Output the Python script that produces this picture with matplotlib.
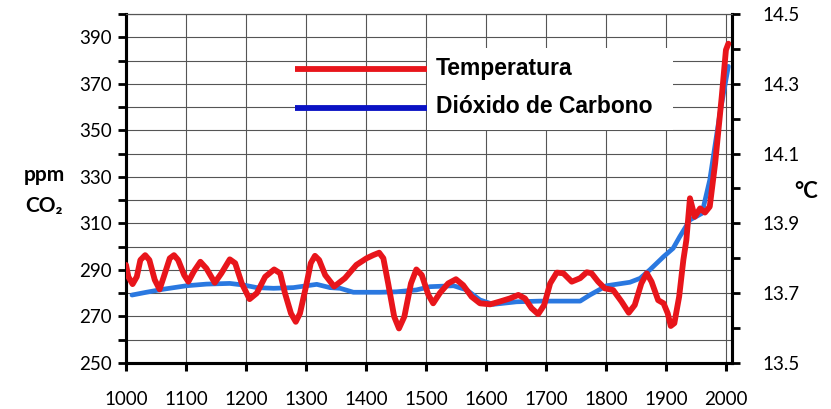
import matplotlib
matplotlib.use('Agg')
import matplotlib.pyplot as plt
from matplotlib.patches import Rectangle
from matplotlib.ticker import FixedLocator, FuncFormatter

# temperature (deg C)
temp_years = [1000, 1004, 1011, 1018, 1024, 1032, 1039, 1048, 1056, 1063,
              1073, 1080, 1087, 1097, 1104, 1113, 1124, 1134, 1148, 1159,
              1173, 1182, 1193, 1206, 1218, 1232, 1247, 1257, 1265, 1275,
              1283, 1290, 1300, 1308, 1315, 1322, 1332, 1347, 1365, 1384,
              1401, 1412, 1422, 1429, 1437, 1447, 1455, 1464, 1475, 1484,
              1493, 1504, 1512, 1523, 1537, 1550, 1562, 1576, 1590, 1607,
              1623, 1640, 1654, 1665, 1676, 1687, 1697, 1707, 1718, 1729,
              1743, 1757, 1768, 1776, 1787, 1798, 1812, 1826, 1838, 1848,
              1859, 1868, 1876, 1887, 1896, 1903, 1908, 1914, 1922, 1929,
              1934, 1940, 1948, 1957, 1965, 1973, 1982, 1993, 2000, 2004]
temp_vals = [13.781, 13.747, 13.726, 13.747, 13.795, 13.809, 13.795, 13.738, 13.711, 13.747,
             13.800, 13.809, 13.795, 13.752, 13.733, 13.762, 13.790, 13.771, 13.730, 13.757,
             13.797, 13.786, 13.728, 13.683, 13.700, 13.747, 13.768, 13.757, 13.700, 13.642,
             13.618, 13.642, 13.719, 13.786, 13.807, 13.795, 13.752, 13.719, 13.743, 13.781,
             13.800, 13.809, 13.816, 13.800, 13.728, 13.633, 13.599, 13.633, 13.728, 13.768,
             13.752, 13.695, 13.671, 13.700, 13.728, 13.740, 13.723, 13.690, 13.671, 13.668,
             13.676, 13.685, 13.695, 13.685, 13.657, 13.640, 13.666, 13.728, 13.759, 13.757,
             13.733, 13.743, 13.760, 13.757, 13.733, 13.714, 13.709, 13.676, 13.644, 13.666,
             13.728, 13.757, 13.733, 13.680, 13.671, 13.642, 13.606, 13.614, 13.690, 13.795,
             13.852, 13.972, 13.919, 13.943, 13.931, 13.948, 14.072, 14.263, 14.397, 14.415]

# CO2 (ppm)
co2_years = [1010, 1034, 1062, 1101, 1134, 1173, 1196, 1218, 1246, 1279,
             1318, 1340, 1357, 1379, 1423, 1451, 1484, 1507, 1546, 1568,
             1590, 1612, 1651, 1690, 1757, 1773, 1801, 1840, 1857, 1873,
             1896, 1912, 1923, 1940, 1960, 1973, 1990, 2004]
co2_vals = [279.2, 280.4, 281.7, 283.2, 283.9, 284.2, 283.5, 282.4, 282.1, 282.4,
            283.8, 282.4, 282.1, 280.4, 280.4, 280.6, 281.4, 282.8, 283.2, 281.4,
            277.1, 275.2, 276.3, 276.6, 276.6, 279.2, 283.2, 284.7, 286.4, 290.0,
            295.7, 299.3, 304.3, 311.5, 314.3, 328.6, 357.3, 377.5]

x_ticks = list(range(1000, 2001, 100))
ppm_major = list(range(250, 391, 20))
ppm_minor = list(range(260, 401, 20))
degc_major = [13.5, 13.7, 13.9, 14.1, 14.3, 14.5]
degc_minor = [13.6, 13.8, 14.0, 14.2, 14.4]

lbl_temp = 'Temperatura'
lbl_co2 = 'Dióxido de Carbono'

RED = '#e8151b'
BLUE = '#2a78e0'
LEG_BLUE = '#0a12c4'
TICKFONT = ['Lato', 'DejaVu Sans']

fig = plt.figure(figsize=(8.31, 4.09), dpi=100)
ax = fig.add_axes([0.1516, 0.1125, 0.7292, 0.8533])
ax2 = ax.twinx()

ax.plot(co2_years, co2_vals, color=BLUE, lw=3.4, solid_joinstyle='round',
        solid_capstyle='round', zorder=3)
ax2.plot(temp_years, temp_vals, color=RED, lw=4.2, solid_joinstyle='round',
         solid_capstyle='round', zorder=4)

ax.set_xlim(1000, 2010)
ax.set_ylim(250, 400)
ax2.set_ylim(13.5, 14.5)

ax.xaxis.set_major_locator(FixedLocator(x_ticks))
ax.yaxis.set_major_locator(FixedLocator(ppm_major))
ax.yaxis.set_minor_locator(FixedLocator(ppm_minor))
ax2.yaxis.set_major_locator(FixedLocator(degc_major))
ax2.yaxis.set_minor_locator(FixedLocator(degc_minor))
ax2.yaxis.set_major_formatter(FuncFormatter(lambda v, p: '{0:.1f}'.format(v)))

ax.grid(True, which='both', color='#555555', lw=0.8)
ax.set_axisbelow(True)

for a in (ax, ax2):
    for s in a.spines.values():
        s.set_linewidth(2.2)
        s.set_color('black')
    a.spines['top'].set_linewidth(0.8)
    a.spines['top'].set_color('#555555')

ax.tick_params(axis='x', which='major', direction='out', length=6, width=2.2,
               pad=14, labelsize=13.5)
ax.tick_params(axis='y', which='both', direction='out', length=6, width=2,
               pad=4, labelsize=13.5)
ax2.tick_params(axis='y', which='both', direction='out', length=6, width=2,
                pad=16, labelsize=13.5)
for lab in ax.get_xticklabels() + ax.get_yticklabels() + ax2.get_yticklabels():
    lab.set_family(TICKFONT)

# axis titles
fig.text(44 / 831, 1 - 175 / 409, 'ppm', ha='center', va='center',
         fontsize=15, fontweight='bold', family=TICKFONT)
fig.text(44 / 831, 1 - 206 / 409, 'CO₂', ha='center', va='center',
         fontsize=15, fontweight='bold', family=TICKFONT)
fig.text(806 / 831, 1 - 192 / 409, '°C', ha='center', va='center',
         fontsize=16, fontweight='bold', family=TICKFONT)

# legend: lines over the grid, text on a white block
ax2.add_patch(Rectangle((0.497, 0.668), 0.406, 0.235, transform=ax2.transAxes,
                        facecolor='white', edgecolor='none', zorder=2))
ax2.plot([0.279, 0.497], [0.842, 0.842], transform=ax2.transAxes,
         color=RED, lw=4.2, solid_capstyle='butt', zorder=3)
ax2.plot([0.279, 0.497], [0.731, 0.731], transform=ax2.transAxes,
         color=LEG_BLUE, lw=4.2, solid_capstyle='butt', zorder=3)
ax2.text(0.512, 0.845, lbl_temp, transform=ax2.transAxes, ha='left',
         va='center', fontsize=16.5, fontweight='bold',
         family='Liberation Sans', zorder=5)
ax2.text(0.512, 0.734, lbl_co2, transform=ax2.transAxes, ha='left',
         va='center', fontsize=16.5, fontweight='bold',
         family='Liberation Sans', zorder=5)

fig.savefig('out.png', dpi=100)
plt.close()
